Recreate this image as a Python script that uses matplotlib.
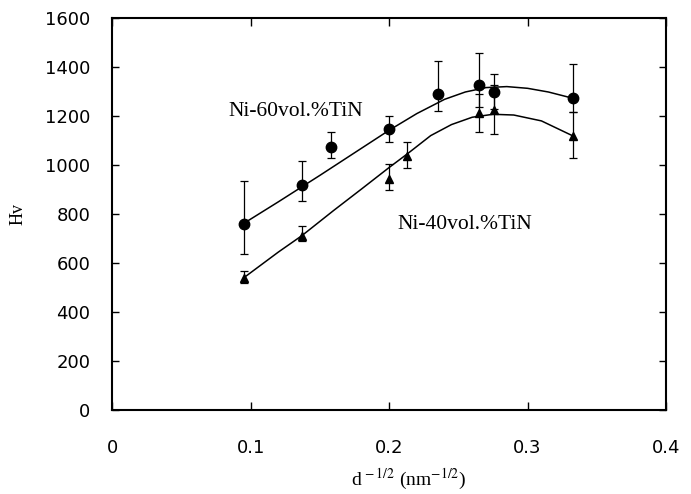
import matplotlib.pyplot as plt

plt.rcParams["mathtext.fontset"] = "stix"

# measured points, Ni-60vol.%TiN (circles)
x60 = [0.095, 0.137, 0.158, 0.200, 0.235, 0.265, 0.276, 0.333]
hv60 = [760, 918, 1075, 1146, 1289, 1327, 1299, 1272]
err60_lo = [124, 65, 45, 51, 69, 90, 70, 57]
err60_hi = [175, 100, 59, 55, 137, 129, 71, 140]

# measured points, Ni-40vol.%TiN (triangles)
x40 = [0.095, 0.137, 0.200, 0.213, 0.265, 0.276, 0.333]
hv40 = [540, 710, 943, 1038, 1211, 1225, 1118]
err40_lo = [20, 19, 45, 51, 75, 100, 88]
err40_hi = [27, 41, 60, 57, 80, 100, 97]

# fitted curves
fit60_x = [0.095, 0.12, 0.15, 0.175, 0.2, 0.22, 0.24, 0.255, 0.27, 0.285, 0.30, 0.315, 0.333]
fit60_y = [762, 850, 958, 1050, 1142, 1210, 1268, 1298, 1316, 1320, 1313, 1298, 1272]
fit40_x = [0.095, 0.12, 0.137, 0.16, 0.18, 0.2, 0.213, 0.23, 0.245, 0.26, 0.275, 0.29, 0.31, 0.333]
fit40_y = [540, 645, 712, 815, 902, 990, 1045, 1120, 1165, 1195, 1207, 1204, 1180, 1118]

xticks = [0, 0.1, 0.2, 0.3, 0.4]
xticklabels = ["0", "0.1", "0.2", "0.3", "0.4"]
yticks = [0, 200, 400, 600, 800, 1000, 1200, 1400, 1600]

fig = plt.figure(figsize=(6.91, 4.94), dpi=100)
ax = fig.add_axes([112.4 / 691, (494 - 410) / 494, (666 - 112.4) / 691, (410 - 18) / 494])

ax.plot(fit60_x, fit60_y, color="black", lw=1.1)
ax.plot(fit40_x, fit40_y, color="black", lw=1.1)

ax.errorbar(x60, hv60, yerr=[err60_lo, err60_hi], fmt="o", color="black",
            markersize=7.5, capsize=3, elinewidth=0.9, capthick=0.9)
ax.errorbar(x40, hv40, yerr=[err40_lo, err40_hi], fmt="^", color="black",
            markersize=6, capsize=3, elinewidth=0.9, capthick=0.9)

ax.text(0.084, 1200, "Ni-60vol.%TiN", family="Liberation Serif", fontsize=15.5)
ax.text(0.206, 737, "Ni-40vol.%TiN", family="Liberation Serif", fontsize=15.5)

ax.set_xlim(0, 0.4)
ax.set_ylim(0, 1600)
ax.set_xticks(xticks)
ax.set_xticklabels(xticklabels)
ax.set_yticks(yticks)

for lab in ax.get_xticklabels() + ax.get_yticklabels():
    lab.set_family("DejaVu Sans")
    lab.set_fontsize(13)

ax.tick_params(axis="x", direction="in", length=6, width=1, pad=21, top=True)
ax.tick_params(axis="y", direction="in", length=5, width=1, pad=16, right=True)
for side in ax.spines.values():
    side.set_linewidth(1.5)

ax.set_xlabel(r"d$^{\,-1/2}$ (nm$^{-1/2}$)", family="Liberation Serif", fontsize=14)
ax.xaxis.set_label_coords(0.535, -0.145)
ax.set_ylabel("Hv", family="Liberation Serif", fontsize=13)
ax.yaxis.set_label_coords(-0.155, 0.5)

fig.savefig("out.png", dpi=100)
plt.close(fig)
